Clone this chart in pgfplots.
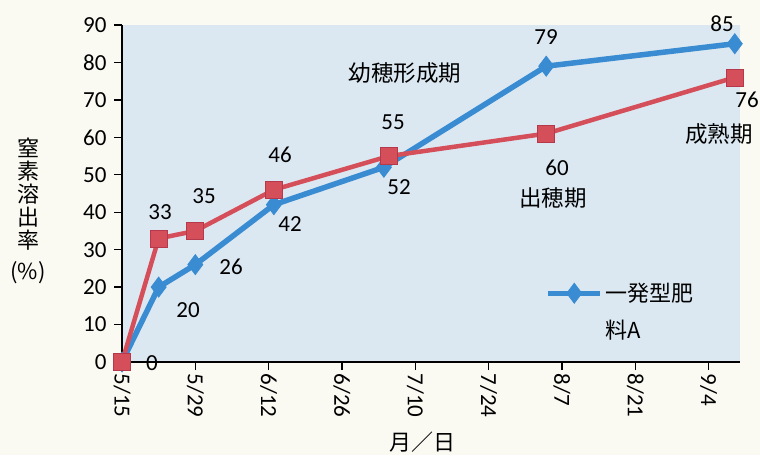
\documentclass[border=0pt]{standalone}
\usepackage{pgfplots}
\pgfplotsset{compat=1.18}
\usepackage{fontspec}
\setmainfont{Carlito}
\newfontfamily\jp{Noto Sans CJK JP}
\definecolor{pagebg}{HTML}{FAFAF3}
\definecolor{plotbg}{HTML}{DCE8F1}
\definecolor{blueA}{HTML}{3A8CD2}
\definecolor{redB}{HTML}{D54F5B}
\definecolor{redBd}{HTML}{B5394A}
\begin{document}
\begin{tikzpicture}
\fill[pagebg] (0pt,0pt) rectangle (760pt,455pt);
\begin{axis}[
  at={(122pt,93pt)}, anchor=south west,
  scale only axis, width=618pt, height=337pt,
  xmin=0, xmax=118, ymin=0, ymax=90,
  axis lines*=left,
  axis line style={black, line width=1.6pt},
  axis background/.style={fill=plotbg},
  tick style={black, line width=1.3pt},
  tick align=outside, major tick length=8pt,
  xtick={0,14,28,42,56,70,84,98,112},
  xticklabels={5/15,5/29,6/12,6/26,7/10,7/24,8/7,8/21,9/4},
  ytick={0,10,...,90},
  /pgf/number format/assume math mode=true,
  tick label style={font=\fontsize{23}{26}\selectfont},
  x tick label style={rotate=-90, anchor=west},
  y tick label style={xshift=-4pt},
  xlabel={月／日},
  xlabel style={at={(rel axis cs:0.487,-0.237)}, anchor=center, font=\jp\fontsize{22}{24}\selectfont},
  ylabel={窒\\素\\溶\\出\\率\\[8pt](\%)},
  ylabel style={rotate=-90, align=center, at={(rel axis cs:-0.152,0.448)}, anchor=center, font=\jp\fontsize{22}{23}\selectfont},
  clip=false,
  legend style={at={(rel axis cs:0.685,0.24)}, anchor=north west, draw=none, fill=none,
    font=\jp\fontsize{22}{24}\selectfont, inner sep=0pt, row sep=13pt},
  legend cell align=left,
  legend image code/.code={\draw[mark repeat=2,mark phase=2] plot coordinates {(0pt,0pt)(26pt,0pt)(52pt,0pt)};},
]
\addplot[color=blueA, line width=5.5pt, mark=diamond*, mark size=10pt,
  mark options={solid, fill=blueA, draw=blueA, line width=0.8pt}]
  coordinates {(0,0)(7,20)(14,26)(29,42)(50,52)(81,79)(117,85)};
\addlegendentry{一発型肥}
\addlegendimage{empty legend}
\addlegendentry{料A}
\addplot[color=redB, line width=4.5pt, mark=square*, mark size=8.5pt, forget plot,
  mark options={solid, fill=redB, draw=redBd, line width=0.8pt}]
  coordinates {(0,0)(7,33)(14,35)(29,46)(51,55)(81,61)(117,76)};
\end{axis}
\begin{scope}[every node/.style={font=\fontsize{23}{26}\selectfont, inner sep=0pt}]
\node at (152pt,92pt) {0};
\node at (188pt,145pt) {20};
\node at (231pt,188pt) {26};
\node at (160pt,243pt) {33};
\node at (204pt,259pt) {35};
\node at (280pt,300pt) {46};
\node at (290pt,231pt) {42};
\node at (393pt,333pt) {55};
\node at (399pt,268pt) {52};
\node at (546pt,418pt) {79};
\node at (557pt,287pt) {60};
\node at (722pt,431pt) {85};
\node at (747pt,355pt) {76};
\end{scope}
\begin{scope}[every node/.style={font=\jp\fontsize{22.5}{24}\selectfont, inner sep=0pt}]
\node at (405pt,382pt) {幼穂形成期};
\node at (553pt,257pt) {出穂期};
\node at (719pt,321pt) {成熟期};
\end{scope}
\end{tikzpicture}
\end{document}
